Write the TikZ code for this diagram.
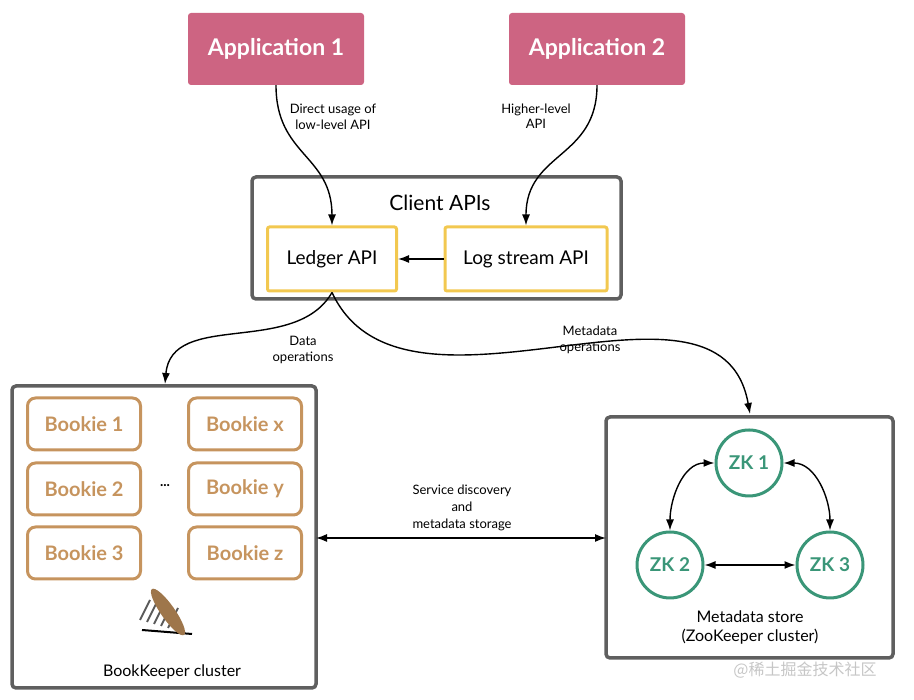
\documentclass[tikz,border=0pt]{standalone}
\usepackage{fontspec}
\setmainfont{Lato}
\newfontfamily\cjkfont{Noto Sans CJK SC}
\usetikzlibrary{arrows.meta}

\definecolor{apppink}{RGB}{205,100,130}
\definecolor{boxgray}{RGB}{95,95,95}
\definecolor{apiyellow}{RGB}{242,200,80}
\definecolor{bookietan}{RGB}{198,148,94}
\definecolor{zkgreen}{RGB}{58,150,120}

\tikzset{
  app/.style={fill=apppink, rounded corners=3pt, minimum width=176pt, minimum height=72pt,
    text=white, font=\fontsize{23}{26}\selectfont\bfseries},
  cluster/.style={draw=boxgray, line width=3.5pt, rounded corners=4pt},
  api/.style={draw=apiyellow, line width=3pt, rounded corners=2pt, minimum height=64pt,
    font=\fontsize{19}{22}\selectfont},
  bookie/.style={draw=bookietan, line width=3pt, rounded corners=8pt, minimum width=113pt,
    minimum height=52pt, text=bookietan, font=\fontsize{20}{22}\selectfont\bfseries},
  zk/.style={circle, draw=zkgreen, line width=3pt, minimum size=66pt, text=zkgreen,
    font=\fontsize{19}{22}\selectfont\bfseries},
  small/.style={font=\fontsize{13}{15.5}\selectfont, align=center},
  conn/.style={-{Latex[length=11pt,width=8pt]}, line width=1.4pt},
  both/.style={{Latex[length=11pt,width=8pt]}-{Latex[length=11pt,width=8pt]}, line width=1.4pt},
}

\begin{document}
\begin{tikzpicture}[x=1pt,y=1pt]
\useasboundingbox (0,0) rectangle (914,700);

% applications
\node[app] (app1) at (276,651) {Application 1};
\node[app] (app2) at (597,651) {Application 2};

% client APIs
\draw[cluster] (252,401) rectangle (621,523);
\node[font=\fontsize{21}{24}\selectfont] (client) at (440,497) {Client APIs};
\node[api, minimum width=129pt] (ledger) at (332,441) {Ledger API};
\node[api, minimum width=162pt] (logstream) at (526,441) {Log stream API};
\draw[conn] (logstream) -- (ledger);

\draw[conn] (app1.south) to[out=-90,in=90,looseness=1.2] (ledger.north);
\node[small] at (333,583) {Direct usage of\\low-level API};
\draw[conn] (app2.south) to[out=-90,in=90,looseness=1.2] (logstream.north);
\node[small] at (536,584) {Higher-level\\API};

% bookkeeper cluster
\draw[cluster] (12,12) rectangle (316,314);
\coordinate (bk) at (165,316);
\node[bookie] (b1) at (84,276) {Bookie 1};
\node[bookie] (b2) at (84,211) {Bookie 2};
\node[bookie] (b3) at (84,147) {Bookie 3};
\node[bookie] (bx) at (245,276) {Bookie x};
\node[bookie] (by) at (245,211) {Bookie y};
\node[bookie] (bz) at (245,147) {Bookie z};
\node[font=\fontsize{14}{16}\selectfont\bfseries] (dots) at (165,214) {...};
% logo
\foreach \i in {0,...,4}
  \draw[gray!70!black, line width=2pt] (140+\i*7,80-\i*2) -- (150+\i*7,100-\i*2);
\draw[black, line width=2pt] (142,70) -- (192,66);
\fill[bookietan!80!black, rotate around={-55:(168,88)}] (168,88) ellipse (28 and 7);
\node[font=\fontsize{16}{18}\selectfont] (bklabel) at (172,28) {BookKeeper cluster};

% metadata store
\draw[cluster] (606,42) rectangle (893,283);
\coordinate (md) at (750,286);
\node[zk] (zk1) at (749,237) {ZK 1};
\node[zk] (zk2) at (670,135) {ZK 2};
\node[zk] (zk3) at (830,135) {ZK 3};
\draw[both] (zk1.west) to[out=180,in=90] (zk2.north);
\draw[both] (zk1.east) to[out=0,in=90] (zk3.north);
\draw[both] (zk2) -- (zk3);
\node[font=\fontsize{16}{19}\selectfont, align=center] (mdlabel) at (750,73)
  {Metadata store\\(ZooKeeper cluster)};

% operations
\draw[conn] (ledger.south) to[out=-120,in=85] (bk);
\node[small] at (303,350) {Data\\operations};
\draw[conn] (ledger.south) to[out=-65,in=100] (md);
\node[small] at (590,360) {Metadata\\operations};

\coordinate (bkside) at (316,162);
\coordinate (mdside) at (606,162);
\draw[both] (bkside) -- (mdside);
\node[small, font=\fontsize{13}{17}\selectfont] at (462,192) {Service discovery\\and\\metadata storage};

\node[text=gray!45, font=\cjkfont\fontsize{16}{18}\selectfont] at (805,30) {@稀土掘金技术社区};
\end{tikzpicture}
\end{document}
